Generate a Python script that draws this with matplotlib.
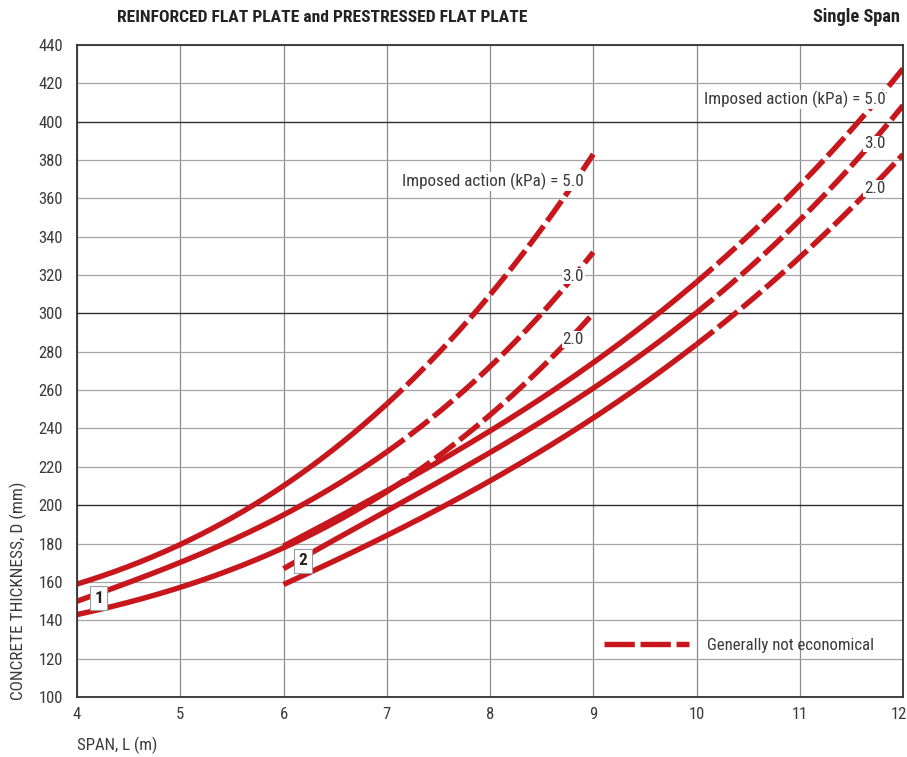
import numpy as np
import matplotlib
matplotlib.use("Agg")
import matplotlib.pyplot as plt
from matplotlib.lines import Line2D
from matplotlib import font_manager
import matplotlib.transforms as mtransforms

_installed = {f.name for f in font_manager.fontManager.ttflist}
_prefs = ["Roboto Condensed", "Liberation Sans Narrow", "Open Sans Condensed",
          "Liberation Sans"]
FONT = next((f for f in _prefs if f in _installed), "DejaVu Sans")
NARROW = FONT in ("Liberation Sans Narrow", "Roboto Condensed", "Open Sans Condensed")
plt.rcParams["font.family"] = [FONT, "DejaVu Sans"]
# scale text down when only a regular-width face is available
K = 1.0 if NARROW else 0.84

# Reinforced flat plate (curve group 1)
span_rc = [4, 5, 6, 7, 8, 9]
rc_5 = [159, 179, 211, 252, 310, 383]
rc_3 = [150, 170, 195, 228, 272, 332]
rc_2 = [143, 157, 178, 207, 247, 300]
rc_limit = 7  # beyond this span the section is generally not economical

# Prestressed flat plate (curve group 2)
span_pt = [6, 7, 8, 9, 10, 11, 12]
pt_5 = [179, 207, 238, 276, 316, 366, 428]
pt_3 = [167, 197, 227, 261, 302, 347, 409]
pt_2 = [159, 183, 214, 245, 284, 329, 383]
pt_limit = 10

x_ticks = list(range(4, 13))
y_ticks = list(range(100, 441, 20))
major_y = [200, 300, 400]

RED = "#C8161D"
TXT = "#3a3a3a"
LW = 3.9

fig = plt.figure(figsize=(9.07, 7.57), dpi=100)
ax = fig.add_axes([0.0849, 0.0793, 0.9107, 0.8613])
ax.set_xlim(4, 12)
ax.set_ylim(100, 440)

# grid
for x in x_ticks:
    ax.axvline(x, color="#8c8c8c", lw=0.9, zorder=1)
for y in y_ticks:
    if y in major_y:
        ax.axhline(y, color="#2e2e2e", lw=1.0, zorder=1)
    else:
        ax.axhline(y, color="#a5a5a5", lw=0.9, zorder=1)


def draw_curve(xs, ys, limit):
    xs = np.asarray(xs, float)
    ys = np.asarray(ys, float)
    coef = np.polyfit(xs, ys, 3)
    xa = np.linspace(xs[0], limit, 200)
    xb = np.linspace(limit, xs[-1], 200)
    ax.plot(xa, np.polyval(coef, xa), color=RED, lw=LW,
            solid_capstyle="butt", zorder=3)
    ax.plot(xb, np.polyval(coef, xb), color=RED, lw=LW,
            linestyle=(0.6, (4.6, 1.1)), dash_capstyle="butt", zorder=3)


for ys in (rc_5, rc_3, rc_2):
    draw_curve(span_rc, ys, rc_limit)
for ys in (pt_5, pt_3, pt_2):
    draw_curve(span_pt, ys, pt_limit)

# curve group markers
box = dict(boxstyle="square,pad=0.25", fc="white", ec="#9a9a9a", lw=0.8)
ax.text(4.21, 151.5, "1", ha="center", va="center", fontsize=12.5 * K,
        fontweight="bold", color="#222222", bbox=box, zorder=5)
ax.text(6.19, 171, "2", ha="center", va="center", fontsize=12.5 * K,
        fontweight="bold", color="#222222", bbox=box, zorder=5)

# load labels
lab_bg = dict(boxstyle="square,pad=0.05", fc="white", ec="none")
lab_kw = dict(ha="right", va="center", fontsize=12.3 * K, color=TXT,
              bbox=lab_bg, zorder=4)
ax.text(8.91, 368.7, "Imposed action (kPa) = 5.0", **lab_kw)
ax.text(8.91, 319.5, "3.0", **lab_kw)
ax.text(8.91, 286.5, "2.0", **lab_kw)
ax.text(11.83, 411.7, "Imposed action (kPa) = 5.0", **lab_kw)
ax.text(11.83, 388.4, "3.0", **lab_kw)
ax.text(11.83, 365.3, "2.0", **lab_kw)

# legend
handle = Line2D([], [], color=RED, lw=LW, linestyle=(0, (5.6, 1.05)),
                dash_capstyle="butt")
leg = ax.legend([handle], ["Generally not economical"], loc="center right",
                bbox_to_anchor=(0.979, 0.0795), frameon=False,
                handlelength=5.1 / K, handletextpad=1.05, fontsize=12.1 * K,
                borderpad=0.2)
for t in leg.get_texts():
    t.set_color(TXT)

# axes styling
for s in ax.spines.values():
    s.set_color("#333333")
    s.set_linewidth(1.3)
    s.set_zorder(6)
ax.set_xticks(x_ticks)
ax.set_yticks(y_ticks)
ax.tick_params(length=0, labelsize=12 * K, colors=TXT, pad=7)
ax.tick_params(axis="y", pad=10)
fig.canvas.draw()
last = ax.get_xticklabels()[-1]
last.set_transform(last.get_transform() +
                   mtransforms.ScaledTranslation(-4 / 100, 0, fig.dpi_scale_trans))

fig.text(77 / 907, 1 - 745 / 757, "SPAN, L (m)", ha="left", va="center",
         fontsize=12.2 * K, color=TXT)
fig.text(18 / 907, 1 - 700 / 757, "CONCRETE THICKNESS, D (mm)", ha="center",
         va="bottom", rotation=90, fontsize=12.4 * K, color=TXT)

fig.text(117 / 907, 1 - 17 / 757, "REINFORCED FLAT PLATE and PRESTRESSED FLAT PLATE",
         ha="left", va="center", fontsize=12.6 * K, fontweight="bold", color="#222222")
fig.text(900 / 907, 1 - 17 / 757, "Single Span", ha="right", va="center",
         fontsize=13.2 * K, fontweight="bold", color="#222222")

fig.savefig("out.png", dpi=100, facecolor="white")
